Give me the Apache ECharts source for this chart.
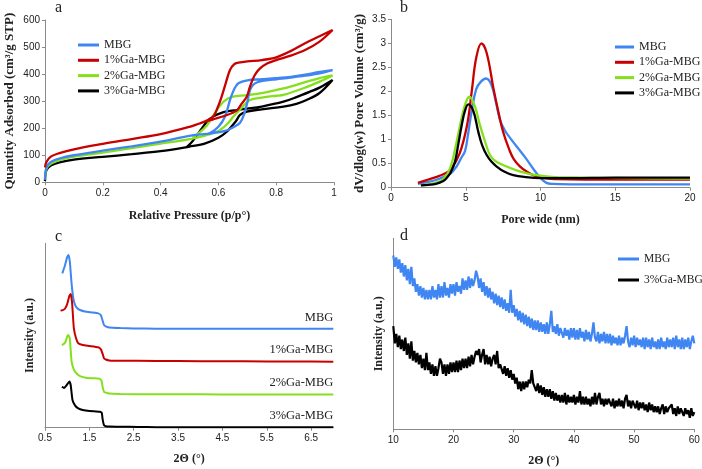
<!DOCTYPE html>
<html><head><meta charset="utf-8">
<script src="https://cdn.jsdelivr.net/npm/echarts@6/dist/echarts.min.js"></script>
<style>html,body{margin:0;padding:0;background:#fff}#c{width:702px;height:469px}</style>
</head><body><div id="c"></div><script>
// ---------- names / colours ----------
const names = ['MBG', '1%Ga-MBG', '2%Ga-MBG', '3%Ga-MBG'];
const colors = ['#3f86f2', '#c80000', '#84e01c', '#000000'];

// ---------- panel a : N2 isotherms (adsorption then desorption branch) ----------
const aMBG_x = [0,0.005,0.02,0.05,0.1,0.2,0.3,0.4,0.5,0.55,0.6,0.623,0.65,0.675,0.69,0.7,0.709,0.72,0.735,0.76,0.8,0.85,0.9,0.95,0.995,
                0.95,0.9,0.85,0.8,0.75,0.7,0.669,0.655,0.64,0.623,0.6,0.571,0.55];
const aMBG_y = [10,55,75,88,100,117,133,150,172,178,185,190,203,220,255,295,340,360,370,376,381,387,394,403,415,
                408,398,390,385,381,377,366,345,304,243,205,182,178];
const aGa1_x = [0,0.005,0.02,0.05,0.1,0.2,0.3,0.4,0.5,0.536,0.58,0.62,0.663,0.68,0.698,0.709,0.725,0.744,0.77,0.8,0.85,0.9,0.95,0.995,
                0.95,0.9,0.85,0.8,0.75,0.7,0.669,0.655,0.64,0.625,0.611,0.595,0.582,0.56,0.536];
const aGa1_y = [55,75,95,108,122,142,160,178,205,218,232,245,265,290,316,353,395,421,440,452,468,489,520,563,
                540,514,485,462,452,447,442,437,415,365,316,270,243,228,218];
const aGa2_x = [0,0.005,0.02,0.05,0.1,0.2,0.3,0.4,0.5,0.55,0.6,0.63,0.652,0.68,0.709,0.75,0.8,0.825,0.9,0.95,0.995,
                0.95,0.9,0.825,0.75,0.7,0.646,0.62,0.594,0.56,0.53,0.51];
const aGa2_y = [10,50,68,82,95,110,126,143,160,172,190,215,243,275,304,313,320,323,350,372,395,
                385,370,347,330,322,316,300,267,210,180,165];
const aGa3_x = [0,0.005,0.02,0.05,0.1,0.2,0.3,0.4,0.5,0.55,0.6,0.629,0.66,0.675,0.698,0.75,0.825,0.87,0.905,0.95,0.995,
                0.95,0.917,0.87,0.825,0.75,0.7,0.663,0.63,0.606,0.585,0.565,0.54,0.52,0.505,0.49];
const aGa3_y = [5,45,62,74,84,94,104,115,132,142,165,187,225,249,261,270,280,290,304,330,378,
                350,335,315,298,280,272,267,262,255,245,230,195,165,145,130];

// ---------- panel b : pore size distribution ----------
const bMBG_x = [1.8,2.5,3,3.5,4,4.4,4.7,4.95,5.15,5.4,5.7,6.0,6.35,6.7,7.0,7.3,7.6,8.0,8.5,9.0,9.5,10.0,10.4,10.8,12,15,20];
const bMBG_y = [0.08,0.12,0.16,0.22,0.3,0.45,0.62,0.76,1.1,1.6,2.05,2.2,2.27,2.15,1.8,1.4,1.2,1.02,0.82,0.62,0.4,0.2,0.1,0.08,0.07,0.07,0.07];
const bGa1_x = [1.8,2.5,3,3.5,4,4.6,5.1,5.4,5.7,6.05,6.4,6.85,7.2,7.5,7.9,8.2,8.6,9.1,9.6,10.2,11,13,16,20];
const bGa1_y = [0.1,0.17,0.22,0.28,0.38,0.72,1.32,2.0,2.7,3.0,2.8,2.07,1.55,1.16,0.8,0.6,0.45,0.33,0.25,0.2,0.18,0.17,0.17,0.17];
const bGa2_x = [2.0,2.5,3.0,3.5,3.95,4.3,4.62,4.95,5.24,5.6,5.95,6.3,6.62,7.0,7.74,8.5,9.1,10,11,13,16,20];
const bGa2_y = [0.05,0.07,0.1,0.18,0.4,0.82,1.3,1.72,1.89,1.7,1.3,0.95,0.68,0.55,0.44,0.35,0.3,0.25,0.22,0.21,0.2,0.19];
const bGa3_x = [2.0,2.5,3.0,3.5,3.72,4.0,4.28,4.5,4.73,4.95,5.17,5.5,5.84,6.1,6.4,6.7,7.07,7.6,8.18,9,10,12,15,20];
const bGa3_y = [0.05,0.06,0.08,0.14,0.2,0.32,0.54,0.9,1.3,1.6,1.73,1.6,1.16,0.88,0.68,0.55,0.44,0.33,0.26,0.22,0.2,0.2,0.21,0.21];

// ---------- panel c : low-angle XRD (stacked, a.u.) ----------
const cMBG_x = [0.89,0.95,1.0,1.03,1.06,1.1,1.14,1.18,1.24,1.29,1.4,1.55,1.7,1.76,1.8,1.83,1.87,1.95,2.2,2.5,3,4,5,6,7];
const cMBG_y = [83.7,88,92.5,93.7,90,78,70,66.5,64.5,63.8,63,62.5,62,61,58,55.7,55,54.3,54,53.8,53.7,53.7,53.6,53.6,53.6];
const cGa1_x = [0.85,0.9,0.95,1.0,1.05,1.08,1.11,1.15,1.2,1.25,1.35,1.5,1.7,1.76,1.8,1.83,1.87,1.95,2.2,3,4,5,6,7];
const cGa1_y = [63.5,63.8,64.5,67,71.5,72.5,68,54,48.5,45.8,44.8,44.3,43.6,42.5,40,37.6,37,36.5,36.3,36.2,36.1,36,35.9,35.8];
const cGa2_x = [0.88,0.93,0.97,1.0,1.03,1.06,1.1,1.15,1.21,1.3,1.45,1.6,1.74,1.78,1.8,1.83,1.87,1.95,2.2,3,4,5,6,7];
const cGa2_y = [44.8,45.5,47,49.5,50.3,48,35.8,31.5,29.5,27.8,27,26.8,26.5,25,22,19.5,19,18.5,18.3,18.1,18.1,18,18,18];
const cGa3_x = [0.88,0.93,0.97,1.0,1.05,1.08,1.12,1.18,1.25,1.35,1.5,1.65,1.74,1.78,1.8,1.83,1.87,1.95,2.2,2.6,3,4,5,6,7];
const cGa3_y = [22.2,21.5,22.5,23.5,25,23,15,12,10.5,9.6,9,8.8,8.6,8,4.5,1.4,0.8,0.6,0.5,0.4,0.3,0.2,0.2,0.2,0.2];

// ---------- panel d : wide-angle XRD (a.u.), sampled every 0.25 deg from 10 deg ----------
const dStart = 10, dStep = 0.25;
const dMBG = [
 91,85,90,84,89,82,87,80, 86,78,84,76,85,75,79,72, 76,70,75,69,74,68,73,68, 73,68,75,69,73,68,76,69,
 75,69,77,70,74,69,76,71, 76,70,77,72,75,71,79,73, 78,73,80,74,79,75,78,83, 80,74,79,72,77,70,75,69,
 74,68,72,66,71,65,70,64, 69,63,68,62,66,61,73,61, 65,59,63,57,62,56,61,55, 60,54,59,53,58,52,57,52,
 57,51,56,51,55,50,56,50, 55,62,51,54,50,55,49,53, 54,48,53,49,52,47,53,48, 53,47,52,47,53,48,51,46,
 52,47,51,46,50,56,48,46, 51,45,50,46,51,45,50,45, 50,44,49,45,48,44,49,44, 48,45,49,54,46,43,48,44,
 49,43,48,44,47,43,48,42, 48,43,47,42,48,43,46,42, 47,42,48,43,46,42,48,43, 47,43,48,42,49,43,47,42,
 48,42,47,43,48,42,46,49, 45];
const dGa3 = [
 54,45,50,43,49,42,47,41, 48,39,45,37,46,36,41,35, 40,34,39,32,37,31,40,31, 35,29,34,28,33,28,32,37,
 35,29,34,28,34,29,35,30, 35,30,36,30,36,31,37,32, 37,32,38,33,39,34,38,41, 39,42,35,39,42,34,39,34,
 38,33,37,39,34,41,32,34, 34,29,33,28,32,27,31,26, 29,24,27,21,25,20,25,21, 25,22,26,24,31,24,25,20,
 24,19,23,18,22,17,21,17, 21,16,20,15,19,15,18,14, 18,14,19,13,18,14,17,14, 18,13,17,14,20,13,17,13,
 17,13,16,12,17,13,19,13, 17,19,13,16,12,16,13,16, 16,12,16,11,15,12,16,12, 15,11,16,18,12,15,11,15,
 14,11,15,10,14,11,14,10, 13,9,14,10,13,9,12,9, 12,8,11,13,8,12,9,11, 11,13,8,11,7,12,8,11,
 10,7,11,8,10,6,11,7, 9];

// ---------- build ----------
const zip = (xs, ys) => xs.map((x, i) => [x, ys[i]]);
const dPairs = arr => arr.map((v, i) => [dStart + i * dStep, v]);

const tickFont = { fontFamily: 'Liberation Sans', fontSize: 10, color: '#222' };
const nameFontX = { fontFamily: 'Liberation Serif', fontWeight: 'bold', fontSize: 12, color: '#222' };
const nameFontY = { fontFamily: 'Liberation Serif', fontWeight: 'bold', fontSize: 13, color: '#222' };
const axLine = { show: true, lineStyle: { color: '#8a8a8a', width: 1 } };
const axTick = { show: true, length: 3, inside: false, lineStyle: { color: '#8a8a8a' } };

function xAx(gi, min, max, interval, name, gap, extra) {
  return Object.assign({
    type: 'value', gridIndex: gi, min, max, interval, name, nameLocation: 'middle', nameGap: gap,
    nameTextStyle: nameFontX, axisLine: Object.assign({ onZero: false }, axLine), axisTick: axTick,
    axisLabel: Object.assign({ margin: 6 }, tickFont), splitLine: { show: false }
  }, extra || {});
}
function yAx(gi, min, max, interval, name, gap, nf, extra) {
  return Object.assign({
    type: 'value', gridIndex: gi, min, max, interval, name, nameLocation: 'middle', nameGap: gap,
    nameTextStyle: nf, axisLine: axLine, axisTick: axTick,
    axisLabel: Object.assign({ margin: 5 }, tickFont), splitLine: { show: false }
  }, extra || {});
}

function lineS(name, color, data, xi, width, smooth) {
  return { type: 'line', name, xAxisIndex: xi, yAxisIndex: xi, data, showSymbol: false, symbol: 'none',
    smooth: smooth, color, lineStyle: { color, width }, z: 3, animation: false };
}

const aSeries = [zip(aMBG_x, aMBG_y), zip(aGa1_x, aGa1_y), zip(aGa2_x, aGa2_y), zip(aGa3_x, aGa3_y)];
const bSeries = [zip(bMBG_x, bMBG_y), zip(bGa1_x, bGa1_y), zip(bGa2_x, bGa2_y), zip(bGa3_x, bGa3_y)];
const cSeries = [zip(cMBG_x, cMBG_y), zip(cGa1_x, cGa1_y), zip(cGa2_x, cGa2_y), zip(cGa3_x, cGa3_y)];

const series = [];
[3, 2, 0, 1].forEach(i => series.push(lineS(names[i], colors[i], aSeries[i], 0, 2.3, 0.35)));
[0, 1, 2, 3].forEach(i => series.push(lineS(names[i], colors[i], bSeries[i], 1, 2.3, 0.4)));
[0, 1, 2, 3].forEach(i => {
  const s = lineS(names[i], colors[i], cSeries[i], 2, 2, 0.15);
  const last = cSeries[i][cSeries[i].length - 1];
  s.markPoint = { symbol: 'circle', symbolSize: 0, silent: true, animation: false,
    data: [{ coord: last, value: names[i] }],
    label: { show: true, position: 'top', distance: 5, align: 'right', formatter: names[i],
      fontFamily: 'Liberation Serif', fontSize: 12.5, color: '#222' } };
  series.push(s);
});
series.push(lineS('MBG', '#3f86f2', dPairs(dMBG), 3, 2.2, false));
series.push(lineS('3%Ga-MBG', '#000000', dPairs(dGa3), 3, 2.2, false));

const legText = { fontFamily: 'Liberation Serif', fontSize: 12, color: '#222' };
const option = {
  animation: false,
  backgroundColor: '#fff',
  grid: [
    { left: 45, top: 20, width: 289, height: 162.3, outerBoundsMode: 'none' },
    { left: 391, top: 19.3, width: 299, height: 168.4, outerBoundsMode: 'none' },
    { left: 45, top: 243.3, width: 288.3, height: 184.4, outerBoundsMode: 'none' },
    { left: 393.3, top: 238.3, width: 301, height: 191, outerBoundsMode: 'none' }
  ],
  xAxis: [
    xAx(0, 0, 1, 0.2, 'Relative Pressure (p/p°)', 28),
    xAx(1, 0, 20, 5, 'Pore wide (nm)', 26),
    xAx(2, 0.5, 7, 1, '2Θ (°)', 25, { axisLabel: Object.assign({ margin: 6, showMaxLabel: false }, tickFont) }),
    xAx(3, 10, 60, 10, '2Θ (°)', 26)
  ],
  yAxis: [
    yAx(0, 0, 600, 100, 'Quantity Adsorbed (cm³/g STP)', 29, nameFontY),
    yAx(1, 0, 3.5, 0.5, 'dV/dlog(w) Pore Volume (cm³/g)', 25, nameFontY),
    yAx(2, 0, 100, 20, 'Intensity (a.u.)', 9, nameFontX, { axisTick: { show: false }, axisLabel: { show: false } }),
    yAx(3, 0, 100, 20, 'Intensity (a.u.)', 8, nameFontX, { axisTick: { show: false }, axisLabel: { show: false } })
  ],
  legend: [
    { orient: 'vertical', left: 73, top: 34, itemWidth: 21, itemHeight: 3, itemGap: 3.3, icon: 'rect',
      data: names, textStyle: legText, selectedMode: false },
    { orient: 'vertical', left: 610, top: 36, itemWidth: 19, itemHeight: 3, itemGap: 3.3, icon: 'rect',
      data: names, textStyle: legText, selectedMode: false },
    { orient: 'vertical', left: 613, top: 248, itemWidth: 21, itemHeight: 3, itemGap: 9, icon: 'rect',
      data: ['MBG', '3%Ga-MBG'], textStyle: Object.assign({}, legText, { fontSize: 11.5 }), selectedMode: false }
  ],
  graphic: [
    { type: 'text', left: 55, top: 0, style: { text: 'a', font: '16px "Liberation Serif"', fill: '#222' } },
    { type: 'text', left: 400, top: 0, style: { text: 'b', font: '16px "Liberation Serif"', fill: '#222' } },
    { type: 'text', left: 55, top: 229, style: { text: 'c', font: '16px "Liberation Serif"', fill: '#222' } },
    { type: 'text', left: 400, top: 228, style: { text: 'd', font: '16px "Liberation Serif"', fill: '#222' } }
  ],
  series
};
const chart = echarts.init(document.getElementById('c'), null, { renderer: 'canvas' });
chart.setOption(option);
</script></body></html>
